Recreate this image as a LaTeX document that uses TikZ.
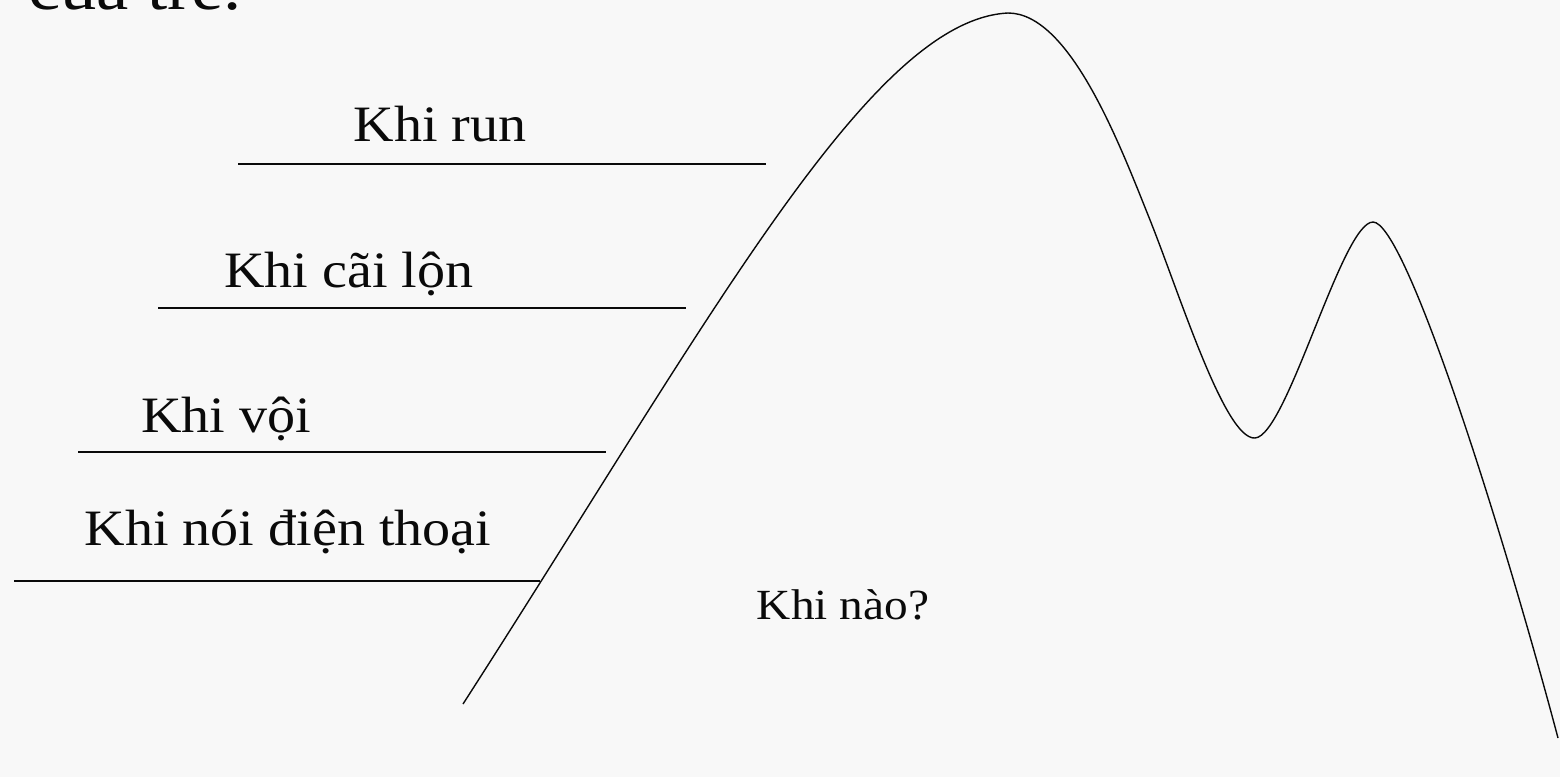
\documentclass[tikz,border=0pt]{standalone}
\usepackage{fontspec}
\setmainfont{Liberation Serif}[FakeStretch=1.1]
\definecolor{bgc}{RGB}{248,248,248}
\definecolor{ink}{RGB}{10,10,10}
\begin{document}
\begin{tikzpicture}[x=1pt,y=-1pt,
  lbl/.style={inner sep=0pt,anchor=base,text=ink,font=\fontsize{51}{60}\selectfont},
  small/.style={inner sep=0pt,anchor=base,text=ink,font=\fontsize{43}{50}\selectfont},
  uline/.style={draw=ink,line width=1.7pt},
  hill/.style={draw=ink,line width=1.4pt,line join=round}]
\useasboundingbox (0,0) rectangle (1560,777);
\clip (0,0) rectangle (1560,777);
\fill[bgc] (0,0) rectangle (1560,777);
% title fragment cut by the top edge
\node[inner sep=0pt,anchor=base west,text=ink,font=\fontsize{66}{70}\selectfont] (title) at (28,9) {của trẻ.};
% labels
\node[lbl] (run) at (440,141) {Khi run};
\node[lbl] (cai) at (349,287) {Khi cãi lộn};
\node[lbl] (voi) at (226,432) {Khi vội};
\node[lbl] (noi) at (288,545) {Khi nói điện thoại};
\node[small] (nao) at (843,619) {Khi nào?};
% underline end points
\coordinate (l1a) at (238,164); \coordinate (l1b) at (766,164);
\coordinate (l2a) at (158,308); \coordinate (l2b) at (686,308);
\coordinate (l3a) at (78,452);  \coordinate (l3b) at (606,452);
\coordinate (l4a) at (14,581);  \coordinate (l4b) at (540,581);
\draw[uline] (l1a) -- (l1b);
\draw[uline] (l2a) -- (l2b);
\draw[uline] (l3a) -- (l3b);
\draw[uline] (l4a) -- (l4b);
% the curve
\coordinate (c0) at (463,704);
\coordinate (p1) at (1008,13);
\coordinate (m1) at (1150,220);
\coordinate (v1) at (1255,438);
\coordinate (p2) at (1373,222);
\coordinate (c9) at (1558,738);
\draw[hill] (c0) .. controls (710,320) and (870,20) .. (p1)
  .. controls (1070,13) and (1120,145) .. (m1)
  .. controls (1180,295) and (1225,440) .. (v1)
  .. controls (1287,436) and (1342,222) .. (p2)
  .. controls (1405,222) and (1500,520) .. (c9);
\end{tikzpicture}
\end{document}
